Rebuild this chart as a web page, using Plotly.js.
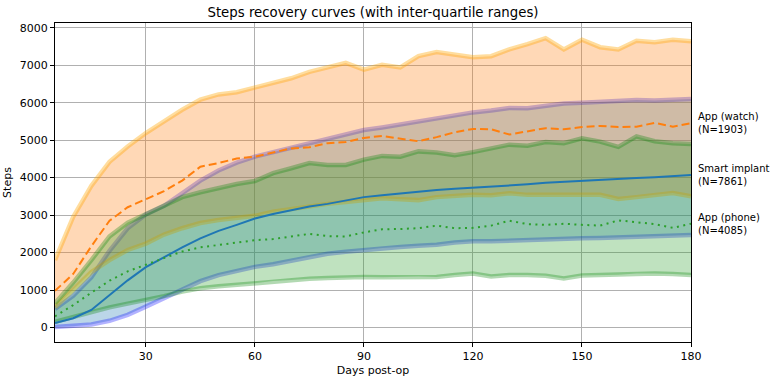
<!DOCTYPE html>
<html>
<head>
<meta charset="utf-8">
<script src="https://cdn.plot.ly/plotly-3.0.1.min.js"></script>
<style>
  html, body { margin: 0; padding: 0; background: #fff; }
  #chart { width: 773px; height: 377px; }
</style>
</head>
<body>
<div id="chart"></div>
<script>
// Days after surgery (sampled every 5 days)
const days = [5, 10, 15, 20, 25, 30, 35, 40, 45, 50, 55, 60, 65, 70, 75, 80, 85, 90,
              95, 100, 105, 110, 115, 120, 125, 130, 135, 140, 145, 150, 155, 160, 165, 170, 175, 180];

// Smart implant: median and inter-quartile range
const implantQ1 = [15, 35, 80, 180, 340, 560, 790, 1030, 1240, 1400, 1520, 1620, 1690, 1780, 1890, 1970, 2020, 2070,
                   2120, 2150, 2180, 2210, 2270, 2300, 2300, 2320, 2330, 2350, 2370, 2380, 2390, 2410, 2420, 2440, 2450, 2470];
const implantMedian = [120, 250, 470, 870, 1260, 1610, 1880, 2140, 2380, 2580, 2740, 2910, 3030, 3140, 3230, 3300, 3400, 3480,
                       3530, 3580, 3630, 3670, 3700, 3730, 3760, 3780, 3820, 3860, 3890, 3900, 3930, 3960, 3990, 4010, 4030, 4070];
const implantQ3 = [500, 850, 1340, 2050, 2650, 3020, 3250, 3570, 3920, 4190, 4400, 4560, 4680, 4820, 4920, 5030, 5150, 5270,
                   5340, 5420, 5510, 5600, 5680, 5740, 5790, 5860, 5850, 5920, 5980, 6000, 6020, 6040, 6070, 6060, 6080, 6100];

// App (watch): median and inter-quartile range
const watchQ1 = [540, 1000, 1480, 1800, 2070, 2240, 2480, 2650, 2790, 2870, 2930, 2980, 3090, 3170, 3240, 3300, 3350, 3400,
                 3450, 3420, 3400, 3480, 3500, 3540, 3530, 3580, 3540, 3550, 3540, 3540, 3540, 3430, 3480, 3540, 3590, 3500];
const watchMedian = [980, 1430, 2170, 2850, 3210, 3420, 3640, 3920, 4290, 4390, 4510, 4560, 4660, 4780, 4810, 4920, 4950, 5060,
                     5110, 5030, 4970, 5080, 5210, 5300, 5290, 5150, 5230, 5320, 5290, 5350, 5380, 5350, 5360, 5460, 5360, 5450];
const watchQ3 = [1800, 2950, 3780, 4420, 4830, 5190, 5500, 5810, 6080, 6220, 6280, 6410, 6530, 6650, 6820, 6950, 7060, 6880,
                 7010, 6940, 7240, 7350, 7280, 7210, 7240, 7420, 7560, 7720, 7420, 7680, 7480, 7420, 7650, 7610, 7680, 7640];

// App (phone): median and inter-quartile range
const phoneQ1 = [150, 280, 420, 540, 640, 730, 840, 960, 1050, 1100, 1140, 1180, 1240, 1270, 1300, 1320, 1340, 1350,
                 1340, 1350, 1360, 1350, 1400, 1440, 1360, 1400, 1400, 1380, 1310, 1390, 1400, 1410, 1440, 1440, 1430, 1400];
const phoneMedian = [300, 600, 930, 1250, 1500, 1680, 1870, 2030, 2140, 2200, 2270, 2330, 2360, 2420, 2500, 2440, 2430, 2540,
                     2620, 2630, 2650, 2720, 2650, 2660, 2720, 2850, 2760, 2740, 2770, 2740, 2720, 2860, 2800, 2760, 2660, 2770];
const phoneQ3 = [650, 1200, 1800, 2430, 2800, 3020, 3250, 3480, 3610, 3730, 3830, 3910, 4120, 4250, 4390, 4340, 4340, 4480,
                 4580, 4560, 4700, 4670, 4600, 4680, 4780, 4880, 4850, 4950, 4920, 5050, 4960, 4820, 5100, 4970, 4920, 4900];

// Group labels shown at the right end of each median line
const groupNames = ['App (watch)', 'Smart implant', 'App (phone)'];
const groupCounts = [1903, 7861, 4085];

const groups = [
  { q1: implantQ1, med: implantMedian, q3: implantQ3,
    fill: 'rgba(31,119,180,0.3)', edge: 'rgba(0,0,255,0.3)', line: '#1f77b4', dash: 'solid' },
  { q1: watchQ1, med: watchMedian, q3: watchQ3,
    fill: 'rgba(255,127,14,0.3)', edge: 'rgba(255,165,0,0.38)', line: '#ff7f0e', dash: '8px,4px' },
  { q1: phoneQ1, med: phoneMedian, q3: phoneQ3,
    fill: 'rgba(44,160,44,0.3)', edge: 'rgba(0,128,0,0.3)', line: '#2ca02c', dash: '2px,4.5px' }
];

const traces = [];

// Each group: IQR band (closed polygon, upper quartile forward, lower quartile back),
// then its soft quartile edges, so later bands tint the earlier edges
groups.forEach(g => {
  traces.push({
    x: days.concat(days.slice().reverse()),
    y: g.q3.concat(g.q1.slice().reverse()),
    type: 'scatter', mode: 'lines', line: { width: 0, color: 'rgba(0,0,0,0)' },
    fill: 'toself', fillcolor: g.fill, showlegend: false, hoverinfo: 'skip'
  });
  [g.q1, g.q3].forEach(v => {
    traces.push({ x: days, y: v, type: 'scatter', mode: 'lines',
                  line: { color: g.edge, width: 4.5 }, showlegend: false, hoverinfo: 'skip' });
  });
});

// Medians on top
groups.forEach(g => {
  traces.push({ x: days, y: g.med, type: 'scatter', mode: 'lines',
                line: { color: g.line, width: 2, dash: g.dash }, showlegend: false });
});

const endValue = arr => arr[arr.length - 1];
const labelY = [endValue(watchMedian), endValue(implantMedian), endValue(phoneMedian)];

const annotations = groupNames.map((name, i) => ({
  xref: 'paper', yref: 'y', x: 1, y: labelY[i],
  xanchor: 'left', yanchor: 'middle', xshift: 5, align: 'left',
  showarrow: false,
  text: name + '<br>(N=' + groupCounts[i] + ')',
  font: { size: 10, color: '#000' }
}));

const axisCommon = {
  showgrid: true, gridcolor: '#b0b0b0', gridwidth: 1,
  showline: true, linecolor: '#000', linewidth: 1, mirror: true,
  ticks: 'outside', ticklen: 4, tickwidth: 1, tickcolor: '#000',
  zeroline: false, automargin: false,
  tickfont: { size: 11, color: '#000' }
};

const layout = {
  width: 773, height: 377,
  margin: { l: 55, r: 82, t: 23, b: 35 },
  paper_bgcolor: '#fff', plot_bgcolor: '#fff',
  font: { family: 'DejaVu Sans', color: '#000' },
  title: { text: 'Steps recovery curves (with inter-quartile ranges)',
           font: { size: 13.3, color: '#000' },
           x: 0.5, xref: 'paper', y: 1 - 12 / 377, yref: 'container', yanchor: 'middle' },
  xaxis: Object.assign({}, axisCommon, {
    range: [5, 180], tickvals: [30, 60, 90, 120, 150, 180],
    title: { text: 'Days post-op', font: { size: 11 }, standoff: 4 }
  }),
  yaxis: Object.assign({}, axisCommon, {
    range: [-385, 8125], tick0: 0, dtick: 1000,
    title: { text: 'Steps', font: { size: 11 }, standoff: 5 }
  }),
  annotations: annotations,
  showlegend: false
};

Plotly.newPlot('chart', traces, layout, { displayModeBar: false, staticPlot: true });
</script>
</body>
</html>
